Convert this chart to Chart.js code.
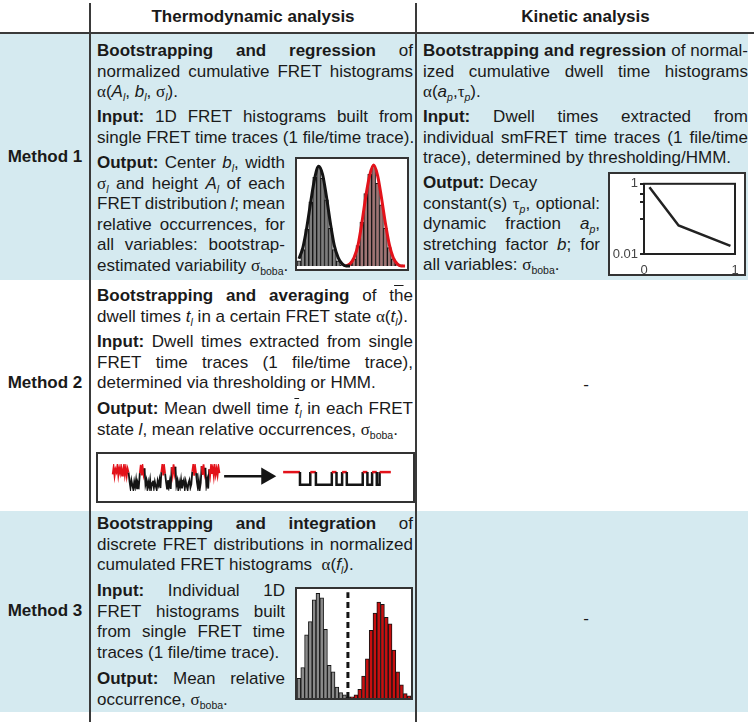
<!DOCTYPE html>
<html>
<head>
<meta charset="utf-8">
<script src="https://cdn.jsdelivr.net/npm/chart.js@4.4.1/dist/chart.umd.min.js"></script>
<style>
body { margin: 0; width: 754px; height: 722px; position: relative; overflow: hidden; background: #fff;
       font-family: "Liberation Sans", Arial, sans-serif; color: #1a1a1a; }
.band { position: absolute; left: 0; width: 748px; background: #d5eaf0; }
.vline { position: absolute; width: 2px; background: #3a3a3a; }
.hline { position: absolute; height: 2px; background: #3a3a3a; }
.head { position: absolute; top: 7px; font-weight: bold; font-size: 17px; line-height: 20.5px; text-align: center; }
.method { position: absolute; left: 0; width: 90px; text-align: center; font-weight: bold; font-size: 17px; line-height: 20.5px; }
.dash { position: absolute; left: 418px; width: 336px; text-align: center; font-size: 17px; line-height: 20.5px; }
.p { position: absolute; font-size: 17px; line-height: 20.5px; }
.p > div { height: 20.5px; white-space: nowrap; }
.p > div.j { display: flex; justify-content: space-between; }
sub { font-size: 10.5px; line-height: 0; vertical-align: -4px; }
var { font-family: "Liberation Serif", serif; font-style: normal; }
ins { text-decoration: overline; }
.box { position: absolute; border: 2px solid #333; background: #fff; }
.box canvas { display: block; }
</style>
</head>
<body>
<div class="band" style="top:34px;height:246px"></div>
<div class="band" style="top:511px;height:201px"></div>

<div class="head" style="left:91px;width:324px">Thermodynamic analysis</div>
<div class="head" style="left:417px;width:337px">Kinetic analysis</div>
<div class="method" style="top:147px">Method 1</div>
<div class="method" style="top:373px">Method 2</div>
<div class="method" style="top:601px">Method 3</div>
<div class="dash" style="top:375px">-</div>
<div class="dash" style="top:609px">-</div>

<div class="box" style="left:295px;top:157px;width:110px;height:110px"><canvas id="histFit" width="110" height="110"></canvas></div>
<div class="box" style="left:608px;top:172px;width:134px;height:100px"><canvas id="decay" width="134" height="100"></canvas></div>
<div class="box" style="left:96px;top:452px;width:315px;height:47px"><canvas id="trace" width="315" height="47"></canvas></div>
<div class="box" style="left:295px;top:587px;width:114px;height:109px"><canvas id="histInt" width="114" height="109"></canvas></div>

<div class="hline" style="left:0;top:32px;width:754px"></div>
<div class="vline" style="left:89px;top:3px;height:719px"></div>
<div class="vline" style="left:415px;top:3px;height:719px"></div>

<script>
// Method 1 (thermodynamic): FRET histogram, 28 bins over 0..1
const m1GrayCounts = [0.05, 0.16, 0.36, 0.63, 0.87, 0.97, 0.86, 0.65, 0.37, 0.16, 0.05, 0.01,
  null, null, null, null, null, null, null, null, null, null, null, null, null, null, null, null];
const m1RedCounts = [null, null, null, null, null, null, null, null, null, null, null, null, null,
  0.02, 0.07, 0.20, 0.43, 0.71, 0.90, 0.98, 0.81, 0.60, 0.37, 0.18, 0.07, 0.02, 0.01];
const m1GrayFit = [0.07, 0.18, 0.38, 0.63, 0.86, 0.98, 0.90, 0.68, 0.42, 0.20, 0.08, 0.02, 0, 0];
const m1RedFit = [null, null, null, null, null, null, null, null, null, null, null, null,
  0, 0.02, 0.08, 0.20, 0.42, 0.68, 0.89, 0.99, 0.89, 0.67, 0.42, 0.21, 0.08, 0.02, 0, 0];

// Method 1 (kinetic): normalized cumulative dwell time histogram
const decayTime = [0.06, 0.38, 0.95];
const decayFrac = [0.8, 0.065, 0.017];
const decayTicks = [0.01, 0.1, 0.3, 0.5, 1];

// Method 2: raw smFRET trace and idealized dwells
const traceFret = [
  0.62, 0.88, 0.55, 0.80, 0.70, 0.93, 0.58, 0.84, 0.66, 0.90, 0.57, 0.78, 0.95, 0.60, 0.86, 0.56, 0.82, 0.68,
  0.36, 0.12, 0.40, 0.22, 0.06, 0.34, 0.15, 0.42, 0.10, 0.30, 0.20,
  0.66, 0.97, 0.58, 0.90, 0.62, 0.84,
  0.24, 0.40, 0.10, 0.33, 0.14, 0.41, 0.07, 0.29, 0.38, 0.12, 0.35, 0.18, 0.05, 0.37, 0.22, 0.42, 0.11,
  0.70, 0.98, 0.58, 0.92, 0.64,
  0.34, 0.09, 0.40, 0.16, 0.37, 0.08,
  0.88, 0.60, 0.99, 0.66, 0.90,
  0.22, 0.39, 0.07, 0.33, 0.15, 0.42, 0.10, 0.28, 0.40, 0.09, 0.36, 0.19, 0.05, 0.31, 0.41, 0.13, 0.26,
  0.72, 0.97, 0.57, 0.92, 0.66,
  0.33, 0.10, 0.40, 0.07, 0.30,
  0.92, 0.60, 0.99, 0.65, 0.86,
  0.20, 0.40, 0.09,
  0.80, 0.56, 0.94, 0.63, 0.87, 0.55, 0.91, 0.61, 0.83, 0.58, 0.89, 0.66
];
const dwellEnds = [18, 29, 35, 52, 57, 63, 68, 85, 90, 95, 100, 103, 115];
const dwellStates = [1, 0, 1, 0, 1, 0, 1, 0, 1, 0, 1, 0, 1];
const stateFret = [0.23, 0.7];

// Method 3: FRET histogram, 30 bins over 0..1, with integration threshold
const m3GrayCounts = [0.18, 0.28, 0.58, 0.70, 0.90, 0.96, 0.92, 0.63, 0.30, 0.24, 0.10, 0.05, 0.03, 0.01];
const m3RedCounts = [null, null, null, null, null, null, null, null, null, null, null, null, null, null,
  0.01, 0.03, 0.08, 0.20, 0.36, 0.62, 0.78, 0.88, 0.86, 0.74, 0.68, 0.44, 0.24, 0.12, 0.04, 0.02];
const m3Threshold = 0.42;

const RED = '#e3121a';
const INK = '#141414';

Chart.defaults.font.family = '"Liberation Sans", Arial, sans-serif';
Chart.defaults.animation = false;
Chart.defaults.plugins.legend.display = false;
Chart.defaults.plugins.tooltip.enabled = false;

// text blocks, one entry per printed line; "~" = not justified
function para(x, y, w, lines) {
    const d = document.createElement('div');
    d.className = 'p';
    d.style.left = x + 'px';
    d.style.top = y + 'px';
    d.style.width = w + 'px';
    lines.forEach((ln, k) => {
        const row = document.createElement('div');
        const txt = ln.replace(/^~/, '');
        if (ln.startsWith('~') || k === lines.length - 1) {
            row.innerHTML = txt;
        } else {
            row.className = 'j';
            row.innerHTML = txt.split(' ').map(s => '<span>' + s + '</span>').join('');
        }
        d.appendChild(row);
    });
    document.body.insertBefore(d, document.querySelector('.hline'));
}

const sl = '<sub><i>l</i></sub>';
const sp = '<sub><i>p</i></sub>';
const boba = '<var>σ</var><sub>boba</sub>';

para(97, 41, 316, [
    '<b>Bootstrapping</b> <b>and</b> <b>regression</b> of',
    'normalized cumulative FRET histograms',
    '<var>α</var>(<i>A</i>' + sl + ', <i>b</i>' + sl + ', <var>σ</var>' + sl + ').'
]);
para(97, 107, 316, [
    '<b>Input:</b> 1D FRET histograms built from',
    'single FRET time traces (1 file/time trace).'
]);
para(97, 153, 188, [
    '<b>Output:</b> Center <i>b</i>' + sl + ', width',
    '<var>σ</var>' + sl + ' and height <i>A</i>' + sl + ' of each',
    'FRET distribution <i>l</i>; mean',
    'relative occurrences, for',
    'all variables: bootstrap-',
    'estimated variability ' + boba + '.'
]);
para(423, 41, 325, [
    '<b>Bootstrapping</b> <b>and</b> <b>regression</b> of normal-',
    'ized cumulative dwell time histograms',
    '<var>α</var>(<i>a</i>' + sp + ',<var>τ</var>' + sp + ').'
]);
para(423, 107, 325, [
    '<b>Input:</b> Dwell times extracted from',
    'individual smFRET time traces (1 file/time',
    'trace), determined by thresholding/HMM.'
]);
para(423, 173, 177, [
    '~<b>Output:</b> Decay',
    'constant(s) <var>τ</var>' + sp + ', optional:',
    'dynamic fraction <i>a</i>' + sp + ',',
    'stretching factor <i>b</i>; for',
    'all variables: ' + boba + '.'
]);
para(97, 286, 316, [
    '<b>Bootstrapping</b> <b>and</b> <b>averaging</b> of t<ins>h</ins>e',
    'dwell times <i>t</i>' + sl + ' in a certain FRET state <var>α</var>(<i>t</i>' + sl + ').'
]);
para(97, 332, 316, [
    '<b>Input:</b> Dwell times extracted from single',
    'FRET time traces (1 file/time trace),',
    'determined via thresholding or HMM.'
]);
para(97, 399, 316, [
    '<b>Output:</b> Mean dwell time <ins><i>t</i></ins>' + sl + ' in each FRET',
    'state <i>l</i>, mean relative occurrences, ' + boba + '.'
]);
para(97, 514, 316, [
    '<b>Bootstrapping</b> <b>and</b> <b>integration</b> of',
    'discrete FRET distributions in normalized',
    'cumulated FRET histograms&nbsp; <var>α</var>(<i>f</i>' + sl + ').'
]);
para(97, 581, 188, [
    '<b>Input:</b> Individual 1D',
    'FRET histograms built',
    'from single FRET time',
    'traces (1 file/time trace).'
]);
para(97, 669, 188, [
    '<b>Output:</b> Mean relative',
    'occurrence, ' + boba + '.'
]);

const bare = { responsive: false, devicePixelRatio: 1, layout: { padding: 0 } };

// Method 1 thermodynamic inset: histogram + gaussian fits
new Chart(document.getElementById('histFit'), {
    type: 'bar',
    data: {
        labels: m1GrayCounts.map((_, i) => i),
        datasets: [
            { type: 'line', data: m1GrayFit, borderColor: INK, borderWidth: 3, pointRadius: 0, cubicInterpolationMode: 'monotone', order: 0 },
            { type: 'line', data: m1RedFit, borderColor: RED, borderWidth: 3, pointRadius: 0, cubicInterpolationMode: 'monotone', order: 0 },
            { data: m1GrayCounts, backgroundColor: '#7d7d7d', borderColor: INK, borderWidth: 1, grouped: false, order: 1 },
            { data: m1RedCounts, backgroundColor: '#a07474', borderColor: INK, borderWidth: 1, grouped: false, order: 1 }
        ]
    },
    options: {
        ...bare,
        datasets: { bar: { barPercentage: 1, categoryPercentage: 1 } },
        scales: { x: { display: false }, y: { display: false, min: -0.03, max: 1.05 } }
    }
});

// Method 1 kinetic inset: cumulative dwell time decay on log axis
const frame = {
    id: 'frame',
    afterDraw(chart) {
        const a = chart.chartArea, ctx = chart.ctx;
        ctx.save();
        ctx.strokeStyle = '#222';
        ctx.lineWidth = 2;
        ctx.strokeRect(a.left, a.top, a.right - a.left, a.bottom - a.top);
        ctx.restore();
    }
};
new Chart(document.getElementById('decay'), {
    type: 'line',
    data: {
        datasets: [{
            data: decayTime.map((t, i) => ({ x: t, y: decayFrac[i] })),
            borderColor: '#222', borderWidth: 2.5, pointRadius: 0, tension: 0
        }]
    },
    options: {
        responsive: false, devicePixelRatio: 1,
        layout: { padding: { top: 6, right: 9 } },
        scales: {
            x: {
                type: 'linear', min: 0, max: 1,
                afterBuildTicks: s => { s.ticks = [{ value: 0 }, { value: 1 }]; },
                afterFit: s => { s.height = 20; },
                grid: { display: false }, border: { display: false },
                ticks: { color: '#444', font: { size: 13 }, padding: 1, maxRotation: 0 }
            },
            y: {
                type: 'logarithmic', min: 0.01, max: 1,
                afterBuildTicks: s => { s.ticks = decayTicks.map(v => ({ value: v })); },
                afterFit: s => { s.width = 34; },
                grid: { drawOnChartArea: false, tickLength: 4, color: '#222', lineWidth: 2 },
                border: { display: false },
                ticks: {
                    autoSkip: false, color: '#444', font: { size: 13 }, padding: 2,
                    callback: v => (v === 1 || v === 0.01) ? String(v) : ''
                }
            }
        }
    },
    plugins: [frame]
});

// Method 2 inset: raw trace -> arrow -> idealized trace
const traceStart = 5, stepStart = 187;
const rawPts = traceFret.map((v, i) => ({ x: traceStart + i, y: v }));
const stepPts = [];
let t0 = 0;
dwellEnds.forEach((t1, k) => {
    const lvl = stateFret[dwellStates[k]];
    stepPts.push({ x: stepStart + t0, y: lvl }, { x: stepStart + t1, y: lvl });
    t0 = t1;
});
const byState = ctx => (ctx.p0.parsed.y > 0.45 && ctx.p1.parsed.y > 0.45) ? RED : INK;
new Chart(document.getElementById('trace'), {
    type: 'line',
    data: {
        datasets: [
            { data: rawPts, borderWidth: 1.8, pointRadius: 0, borderColor: INK, segment: { borderColor: byState } },
            { data: stepPts, borderWidth: 2.5, pointRadius: 0, borderColor: INK, segment: { borderColor: byState } },
            {
                data: [{ x: 124, y: 0.55 }, { x: 169, y: 0.55 }], borderColor: INK, borderWidth: 2.5,
                pointRadius: [0, 10], pointStyle: 'triangle', pointRotation: 90,
                pointBackgroundColor: INK, pointBorderWidth: 0
            }
        ]
    },
    options: {
        ...bare,
        scales: { x: { type: 'linear', display: false, min: 0, max: 315 }, y: { display: false, min: 0, max: 1 } }
    }
});

// Method 3 inset: histogram with integration threshold
new Chart(document.getElementById('histInt'), {
    type: 'bar',
    data: {
        labels: m3RedCounts.map((_, i) => i),
        datasets: [
            {
                type: 'line', xAxisID: 'x2', data: [{ x: m3Threshold, y: 0 }, { x: m3Threshold, y: 0.97 }],
                borderColor: INK, borderWidth: 3, borderDash: [6, 4], pointRadius: 0, order: 0
            },
            { data: m3GrayCounts, backgroundColor: '#8a8a8a', borderColor: INK, borderWidth: 1, grouped: false, order: 1 },
            { data: m3RedCounts, backgroundColor: '#c80f0f', borderColor: INK, borderWidth: 1, grouped: false, order: 1 }
        ]
    },
    options: {
        ...bare,
        datasets: { bar: { barPercentage: 1, categoryPercentage: 1 } },
        scales: {
            x: { display: false },
            x2: { type: 'linear', display: false, min: 0, max: 1 },
            y: { display: false, min: 0, max: 1 }
        }
    }
});
</script>
</body>
</html>
